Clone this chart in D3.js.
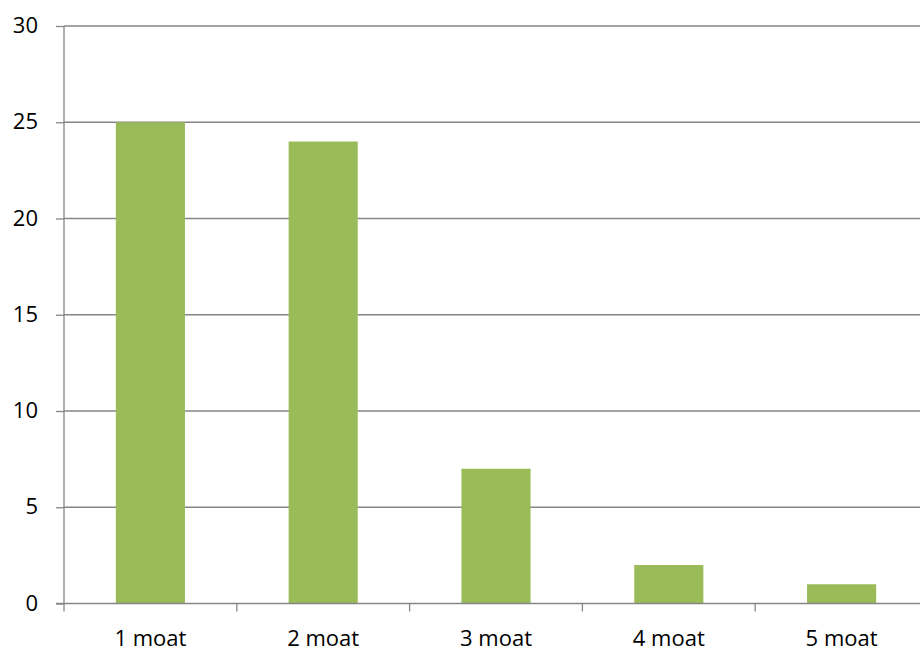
<!DOCTYPE html>
<html><head><meta charset="utf-8">
<script src="https://cdn.jsdelivr.net/npm/d3@7"></script>
<style>html,body{margin:0;padding:0;background:#fff;overflow:hidden}</style>
</head><body>
<svg id="c" width="920" height="650"></svg>
<script>
const categories = ["1 moat","2 moat","3 moat","4 moat","5 moat"];
const values = [25, 24, 7, 2, 1];
const yTicks = [0,5,10,15,20,25,30];

(function(){
const svg = d3.select("#c");
const mLeft = 64, mRight = 928, mTop = 26, mBottom = 603.5;
const x = d3.scaleBand().domain(categories).range([mLeft, mRight]).paddingInner(0.6).paddingOuter(0.3);
const y = d3.scaleLinear().domain([0,30]).range([mBottom, mTop]);
const font = "'Open Sans', 'Liberation Sans', sans-serif";
const grid = "#868686";
const fs = 22;

svg.append("g").selectAll("line").data(yTicks.filter(d=>d>0)).join("line")
  .attr("x1", mLeft).attr("x2", 920).attr("y1", d=>y(d)).attr("y2", d=>y(d))
  .attr("stroke", grid).attr("stroke-width", 1.3);

svg.append("g").selectAll("rect").data(values).join("rect")
  .attr("x", (d,i)=>x(categories[i])).attr("width", x.bandwidth())
  .attr("y", d=>y(d)).attr("height", d=>mBottom - y(d))
  .attr("fill", "#9BBB59");

const ya = svg.append("g").attr("transform", `translate(${mLeft},0)`)
  .call(d3.axisLeft(y).tickValues(yTicks).tickSize(8).tickPadding(18));
ya.select(".domain").attr("stroke", grid).attr("stroke-width", 1.3).attr("d", `M0,${mBottom}V${mTop}`);
ya.selectAll(".tick line").attr("stroke", grid).attr("stroke-width", 1.3);
ya.selectAll("text").attr("font-family", font).attr("font-size", fs).attr("fill", "#000").attr("dy", "0.3em");

const xa = svg.append("g").attr("transform", `translate(0,${mBottom})`);
xa.append("line").attr("x1", mLeft - 8).attr("x2", 920).attr("y1", 0).attr("y2", 0)
  .attr("stroke", grid).attr("stroke-width", 1.3);
const bounds = d3.range(categories.length + 1).map(i => mLeft + i * (mRight-mLeft)/categories.length);
xa.selectAll("line.tk").data(bounds).join("line").attr("class","tk")
  .attr("x1", d=>d).attr("x2", d=>d).attr("y1", 0).attr("y2", 8)
  .attr("stroke", grid).attr("stroke-width", 1.3);
xa.selectAll("text").data(categories).join("text")
  .attr("x", d=>x(d) + x.bandwidth()/2).attr("y", 42)
  .attr("text-anchor", "middle").attr("font-family", font).attr("font-size", fs).attr("fill", "#000")
  .text(d=>d);
})();
</script>
</body></html>
